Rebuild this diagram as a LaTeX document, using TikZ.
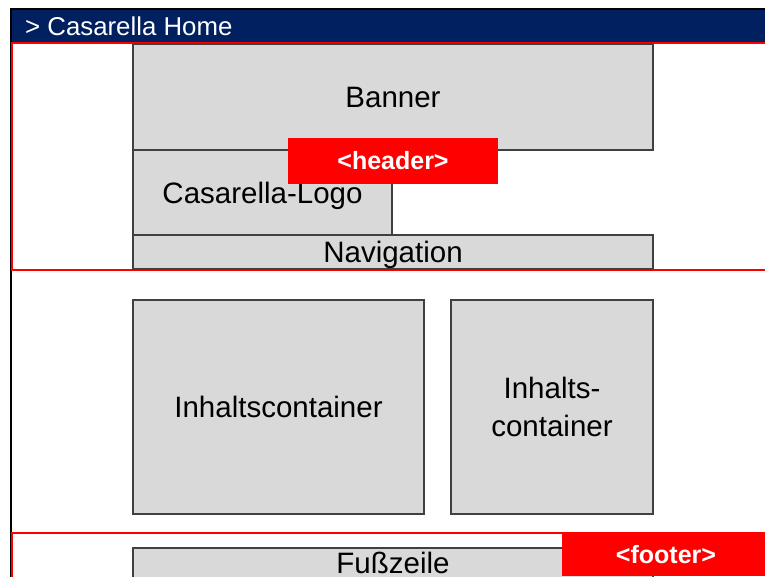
\documentclass[tikz,border=0pt]{standalone}
\usepackage{fontspec}
\setmainfont{Liberation Sans}
\usepackage{xcolor}
\usepackage{tikz}
\usetikzlibrary{positioning}
\definecolor{barcolor}{HTML}{002060}
\definecolor{boxgray}{HTML}{D9D9D9}
\definecolor{boxline}{HTML}{404040}
\definecolor{tagred}{HTML}{FF0000}
\tikzset{
  pagebox/.style={draw=boxline, fill=boxgray, line width=1.5pt, inner sep=0pt, outer sep=0pt,
    font=\fontsize{29.5}{38}\selectfont},
  oneline/.style={pagebox, text height=21.2pt, text depth=0pt},
  tagbox/.style={fill=tagred, text=white, inner sep=0pt, outer sep=0pt,
    font=\bfseries\fontsize{25}{28}\selectfont},
}
\begin{document}
\begin{tikzpicture}[x=1pt,y=-1pt]
\useasboundingbox (0,0) rectangle (765,576);
\clip (0,0) rectangle (765,576);
\fill[white] (0,0) rectangle (765,576);
%% window frame and title bar
   \draw [black, line width=2pt] (11,600) -- (11,9) -- (800,9);
   \fill [barcolor] (12,10) rectangle (800,42);
   \node [text=white, anchor=west, inner sep=0pt, font=\fontsize{25.8}{28}\selectfont] (title) at (25,26) {> Casarella Home};
%% header
   \draw [tagred, line width=2.5pt] (12,43) rectangle (800,270);
   \node [oneline, minimum width=520pt, minimum height=106pt] (banner) at (393,97) {Banner};
   \node [oneline, minimum width=259pt, minimum height=85pt, below right=0pt of banner.south west] (logo) {Casarella-Logo};
   \node [oneline, minimum width=520pt, minimum height=34pt, below right=0pt of logo.south west] (navi) {Navigation};
   \node [tagbox, minimum width=210pt, minimum height=46pt] (headertag) at (393,161) {<header>};
%% content
   \node [oneline, minimum width=291pt, minimum height=214pt] (inhaltA) at (278.5,407) {Inhaltscontainer};
   \node [pagebox, minimum width=202pt, minimum height=214pt, align=center, right=27pt of inhaltA] (inhaltB) {Inhalts-\\container};
%% footer
   \draw [tagred, line width=2.5pt] (12,533) rectangle (800,620);
   \node [pagebox, minimum width=520pt, minimum height=30pt, anchor=north] (fusszeile) at (393,548) {Fußzeile};
   \node [tagbox, minimum width=208pt, minimum height=43pt, anchor=north west] (footertag) at (562,533) {<footer>};
\end{tikzpicture}
\end{document}
